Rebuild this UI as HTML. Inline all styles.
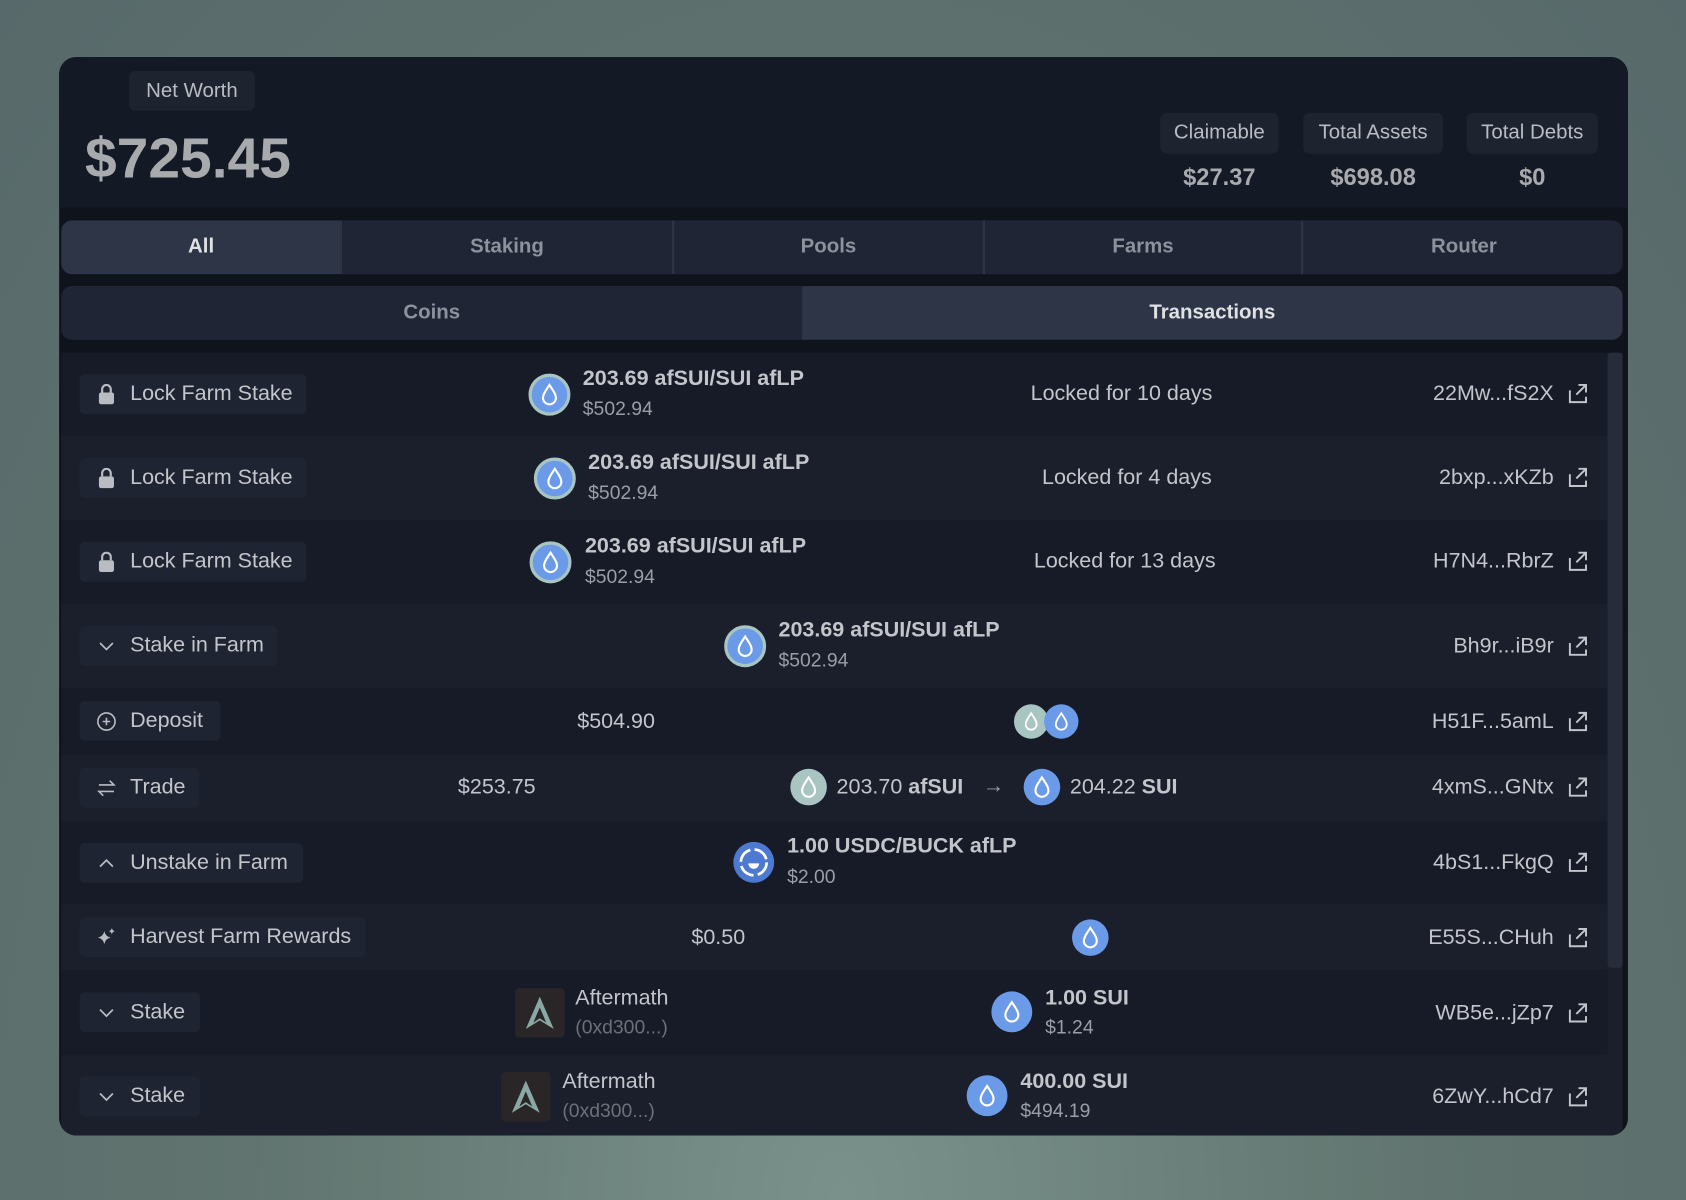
<!DOCTYPE html>
<html><head><meta charset="utf-8"><style>
html,body{margin:0;padding:0;width:1686px;height:1200px;overflow:hidden}
body{background:radial-gradient(ellipse at 50% 100%,#7a918b 0%,#61746f 50%,#57696a 100%);font-family:"Liberation Sans",sans-serif}
#w{position:absolute;left:0;top:0;width:1568px;height:1116px;transform:scale(1.07526);transform-origin:0 0}
.a{position:absolute}
.card{left:55px;top:53px;width:1459px;height:1003px;background:#0f141c;border-radius:16px;overflow:hidden}
.pill{position:absolute;background:#1e2330;border-radius:6px;color:#b9bcc2;font-size:19px;display:flex;align-items:center;justify-content:center}
.tab{position:absolute;top:0;height:50px;display:flex;align-items:center;justify-content:center;color:#8d929c;font-weight:bold;font-size:19px;background:#1f2535}
.badge{position:absolute;left:19px;height:37px;background:#1f2432;border-radius:5px;color:#c3c5ca;font-size:20px;display:flex;align-items:center;padding-left:47px;box-sizing:border-box}
.badge svg{position:absolute;left:15px;top:9px}
.t{position:absolute;color:#c3c5ca;font-size:20px;white-space:nowrap}
.b{font-weight:bold}
.g{color:#9a9ea6;font-size:18px}
.coin{position:absolute;border-radius:50%;background:#6b9be8;border:2px solid #a9c5c2;box-sizing:border-box}
</style></head><body><div id="w">
<div class="a card">
 <div class="a" style="left:0;top:0;width:1459px;height:140px;background:#131925"></div>
 <div class="pill" style="left:65px;top:13px;width:117px;height:37px">Net Worth</div>
 <div class="a" style="left:24px;top:64px;font-size:53px;font-weight:bold;color:#a9aaad">$725.45</div>
 <div class="pill" style="left:1024px;top:52px;width:110px;height:38px">Claimable</div>
 <div class="pill" style="left:1157px;top:52px;width:130px;height:38px">Total Assets</div>
 <div class="pill" style="left:1309px;top:52px;width:122px;height:38px">Total Debts</div>
 <div class="a b" style="left:1024px;width:110px;text-align:center;top:99px;font-size:22px;color:#a9aaad">$27.37</div>
 <div class="a b" style="left:1157px;width:130px;text-align:center;top:99px;font-size:22px;color:#a9aaad">$698.08</div>
 <div class="a b" style="left:1309px;width:122px;text-align:center;top:99px;font-size:22px;color:#a9aaad">$0</div>

 <div class="a" style="left:2px;top:152px;width:1452px;height:50px;border-radius:10px;overflow:hidden;background:#1f2535">
  <div class="tab" style="left:0;width:260px;background:#2e3547;color:#e0e1e4">All</div>
  <div class="tab" style="left:260px;width:307px;border-left:1px solid #2e3546">Staking</div>
  <div class="tab" style="left:568px;width:287px;border-left:2px solid #2e3546">Pools</div>
  <div class="tab" style="left:857px;width:294px;border-left:2px solid #2e3546">Farms</div>
  <div class="tab" style="left:1153px;width:299px;border-left:2px solid #2e3546">Router</div>
 </div>
 <div class="a" style="left:2px;top:213px;width:1452px;height:50px;border-radius:10px;overflow:hidden;background:#1f2535">
  <div class="tab" style="left:0;width:689px">Coins</div>
  <div class="tab" style="left:689px;width:763px;background:#2e3547;color:#e0e1e4">Transactions</div>
 </div>

 <div class="a" style="left:2px;top:275px;width:1438px;height:728px;background:#161b27">
 <div class="a" style="left:0;top:77px;width:1438px;height:79px;background:#1a1f2b"></div>
 <div class="a" style="left:0;top:234px;width:1438px;height:78px;background:#1a1f2b"></div>
 <div class="a" style="left:0;top:374px;width:1438px;height:62px;background:#1a1f2b"></div>
 <div class="a" style="left:0;top:513px;width:1438px;height:61px;background:#1a1f2b"></div>
 <div class="a" style="left:0;top:653px;width:1438px;height:75px;background:#1a1f2b"></div>
 </div>
 <div class="a" style="left:1440px;top:275px;width:14px;height:728px;background:#1a1f2b"></div>
 <div class="a" style="left:1440px;top:275px;width:14px;height:572px;background:#262c3a;border-radius:3px"></div>
</div>

<svg width="0" height="0" style="position:absolute"><defs>
<g id="drop"><path d="M0,-9 C4,-3 6,0 6,3 A6,6 0 0 1 -6,3 C-6,0 -4,-3 0,-9Z" fill="none" stroke="#fff" stroke-width="2"/></g>
<g id="ext"><path d="M-7,-3 V8 H8 V3 M1,-8 H8 V-1 M8,-8 L-1,1" fill="none" stroke="#c3c5ca" stroke-width="1.8"/></g>
<g id="lock"><rect x="-7" y="-2" width="14" height="11" rx="2" fill="#b9bcc2"/><path d="M-4,-2 V-5 A4,4 0 0 1 4,-5 V-2" fill="none" stroke="#b9bcc2" stroke-width="2"/></g>
</defs></svg>

<!-- row 1 -->
<div class="badge a" style="left:74px;top:348px;width:211px">Lock Farm Stake<svg width="20" height="20" viewBox="-10 -10 20 20"><use href="#lock"/></svg></div>
<svg class="a" style="left:491px;top:347px" width="40" height="40" viewBox="-20 -20 40 40"><circle r="18" fill="#6b9be8" stroke="#a9c5c2" stroke-width="3"/><use href="#drop"/></svg>
<div class="t b" style="left:542px;top:341px">203.69 afSUI/SUI afLP</div><div class="t g" style="left:542px;top:370px">$502.94</div>
<div class="t" style="left:943px;width:200px;text-align:center;top:355px">Locked for 10 days</div>
<div class="t" style="right:123px;top:355px">22Mw...fS2X</div>
<svg class="a" style="left:1457px;top:356px" width="20" height="20" viewBox="-10 -10 20 20"><use href="#ext"/></svg>
<!-- row 2 -->
<div class="badge a" style="left:74px;top:426px;width:211px">Lock Farm Stake<svg width="20" height="20" viewBox="-10 -10 20 20"><use href="#lock"/></svg></div>
<svg class="a" style="left:496px;top:425px" width="40" height="40" viewBox="-20 -20 40 40"><circle r="18" fill="#6b9be8" stroke="#a9c5c2" stroke-width="3"/><use href="#drop"/></svg>
<div class="t b" style="left:547px;top:419px">203.69 afSUI/SUI afLP</div><div class="t g" style="left:547px;top:448px">$502.94</div>
<div class="t" style="left:948px;width:200px;text-align:center;top:433px">Locked for 4 days</div>
<div class="t" style="right:123px;top:433px">2bxp...xKZb</div>
<svg class="a" style="left:1457px;top:434px" width="20" height="20" viewBox="-10 -10 20 20"><use href="#ext"/></svg>
<!-- row 3 -->
<div class="badge a" style="left:74px;top:504px;width:211px">Lock Farm Stake<svg width="20" height="20" viewBox="-10 -10 20 20"><use href="#lock"/></svg></div>
<svg class="a" style="left:492px;top:503px" width="40" height="40" viewBox="-20 -20 40 40"><circle r="18" fill="#6b9be8" stroke="#a9c5c2" stroke-width="3"/><use href="#drop"/></svg>
<div class="t b" style="left:544px;top:497px">203.69 afSUI/SUI afLP</div><div class="t g" style="left:544px;top:526px">$502.94</div>
<div class="t" style="left:946px;width:200px;text-align:center;top:511px">Locked for 13 days</div>
<div class="t" style="right:123px;top:511px">H7N4...RbrZ</div>
<svg class="a" style="left:1457px;top:512px" width="20" height="20" viewBox="-10 -10 20 20"><use href="#ext"/></svg>
<!-- row 4 -->
<div class="badge a" style="left:74px;top:582px;width:184px">Stake in Farm<svg width="20" height="20" viewBox="-10 -10 20 20"><path d="M-6,-3 L0,3 L6,-3" fill="none" stroke="#b9bcc2" stroke-width="1.6"/></svg></div>
<svg class="a" style="left:673px;top:581px" width="40" height="40" viewBox="-20 -20 40 40"><circle r="18" fill="#6b9be8" stroke="#a9c5c2" stroke-width="3"/><use href="#drop"/></svg>
<div class="t b" style="left:724px;top:575px">203.69 afSUI/SUI afLP</div><div class="t g" style="left:724px;top:604px">$502.94</div>
<div class="t" style="right:123px;top:590px">Bh9r...iB9r</div>
<svg class="a" style="left:1457px;top:591px" width="20" height="20" viewBox="-10 -10 20 20"><use href="#ext"/></svg>
<!-- row 5 -->
<div class="badge a" style="left:74px;top:652px;width:131px">Deposit<svg width="20" height="20" viewBox="-10 -10 20 20"><circle r="8" fill="none" stroke="#b9bcc2" stroke-width="1.5"/><path d="M-3.5,0 H3.5 M0,-3.5 V3.5" stroke="#b9bcc2" stroke-width="1.5"/></svg></div>
<div class="t" style="left:513px;width:120px;text-align:center;top:660px">$504.90</div>
<svg class="a" style="left:941px;top:653px" width="66" height="36" viewBox="0 0 66 36"><circle cx="18" cy="18" r="16" fill="#a9c5c2"/><g transform="translate(18,18) scale(.85)"><use href="#drop"/></g><circle cx="46" cy="18" r="16" fill="#6b9be8"/><g transform="translate(46,18) scale(.85)"><use href="#drop"/></g></svg>
<div class="t" style="right:123px;top:660px">H51F...5amL</div>
<svg class="a" style="left:1457px;top:661px" width="20" height="20" viewBox="-10 -10 20 20"><use href="#ext"/></svg>
<!-- row 6 -->
<div class="badge a" style="left:74px;top:714px;width:111px">Trade<svg width="20" height="20" viewBox="-10 -10 20 20"><path d="M-7,-3 H7 L3,-7 M7,3 H-7 L-3,7" fill="none" stroke="#b9bcc2" stroke-width="1.5"/></svg></div>
<div class="t" style="left:402px;width:120px;text-align:center;top:721px">$253.75</div>
<svg class="a" style="left:734px;top:714px" width="36" height="36" viewBox="-18 -18 36 36"><circle r="17" fill="#a9c5c2"/><use href="#drop"/></svg>
<div class="t" style="left:778px;top:721px">203.70 <span class="b">afSUI</span></div>
<div class="t" style="left:914px;top:720px;color:#9a9ea6">→</div>
<svg class="a" style="left:951px;top:714px" width="36" height="36" viewBox="-18 -18 36 36"><circle r="17" fill="#6b9be8"/><use href="#drop"/></svg>
<div class="t" style="left:995px;top:721px">204.22 <span class="b">SUI</span></div>
<div class="t" style="right:123px;top:721px">4xmS...GNtx</div>
<svg class="a" style="left:1457px;top:722px" width="20" height="20" viewBox="-10 -10 20 20"><use href="#ext"/></svg>
<!-- row 7 -->
<div class="badge a" style="left:74px;top:784px;width:208px">Unstake in Farm<svg width="20" height="20" viewBox="-10 -10 20 20"><path d="M-6,3 L0,-3 L6,3" fill="none" stroke="#b9bcc2" stroke-width="1.6"/></svg></div>
<svg class="a" style="left:681px;top:782px" width="40" height="40" viewBox="-20 -20 40 40"><circle r="19" fill="#4d79d0"/><circle r="12" fill="none" stroke="#fff" stroke-width="2.5" stroke-dasharray="15 4"/><path d="M-5,1 A5,5 0 0 0 5,1Z" fill="#fff"/></svg>
<div class="t b" style="left:732px;top:776px">1.00 USDC/BUCK afLP</div><div class="t g" style="left:732px;top:805px">$2.00</div>
<div class="t" style="right:123px;top:791px">4bS1...FkgQ</div>
<svg class="a" style="left:1457px;top:792px" width="20" height="20" viewBox="-10 -10 20 20"><use href="#ext"/></svg>
<!-- row 8 -->
<div class="badge a" style="left:74px;top:853px;width:266px">Harvest Farm Rewards<svg width="20" height="20" viewBox="-10 -10 20 20"><path d="M-2,-6 Q-1,-1 4,0 Q-1,1 -2,6 Q-3,1 -8,0 Q-3,-1 -2,-6Z M5,-9 Q5.5,-6.5 8,-6 Q5.5,-5.5 5,-3 Q4.5,-5.5 2,-6 Q4.5,-6.5 5,-9Z" fill="#b9bcc2"/></svg></div>
<div class="t" style="left:608px;width:120px;text-align:center;top:861px">$0.50</div>
<svg class="a" style="left:996px;top:854px" width="36" height="36" viewBox="-18 -18 36 36"><circle r="17" fill="#6b9be8"/><use href="#drop"/></svg>
<div class="t" style="right:123px;top:861px">E55S...CHuh</div>
<svg class="a" style="left:1457px;top:862px" width="20" height="20" viewBox="-10 -10 20 20"><use href="#ext"/></svg>
<!-- row 9 -->
<div class="badge a" style="left:74px;top:923px;width:112px">Stake<svg width="20" height="20" viewBox="-10 -10 20 20"><path d="M-6,-3 L0,3 L6,-3" fill="none" stroke="#b9bcc2" stroke-width="1.6"/></svg></div>
<svg class="a" style="left:479px;top:919px" width="46" height="46" viewBox="0 0 46 46"><rect width="46" height="46" rx="4" fill="#2a2628"/><path d="M23,8 L36,38 L23,30 L10,38Z" fill="#8aa9a6"/><path d="M23,18 L29,32 L23,28 L17,32Z" fill="#2a2628"/></svg>
<div class="t" style="left:535px;top:917px">Aftermath</div><div class="t g" style="left:535px;top:945px;color:#6b7079">(0xd300...)</div>
<svg class="a" style="left:921px;top:921px" width="40" height="40" viewBox="-20 -20 40 40"><circle r="19" fill="#6b9be8"/><use href="#drop"/></svg>
<div class="t b" style="left:972px;top:917px">1.00 SUI</div><div class="t g" style="left:972px;top:945px">$1.24</div>
<div class="t" style="right:123px;top:931px">WB5e...jZp7</div>
<svg class="a" style="left:1457px;top:932px" width="20" height="20" viewBox="-10 -10 20 20"><use href="#ext"/></svg>
<!-- row 10 -->
<div class="badge a" style="left:74px;top:1001px;width:112px">Stake<svg width="20" height="20" viewBox="-10 -10 20 20"><path d="M-6,-3 L0,3 L6,-3" fill="none" stroke="#b9bcc2" stroke-width="1.6"/></svg></div>
<svg class="a" style="left:466px;top:997px" width="46" height="46" viewBox="0 0 46 46"><rect width="46" height="46" rx="4" fill="#2a2628"/><path d="M23,8 L36,38 L23,30 L10,38Z" fill="#8aa9a6"/><path d="M23,18 L29,32 L23,28 L17,32Z" fill="#2a2628"/></svg>
<div class="t" style="left:523px;top:995px">Aftermath</div><div class="t g" style="left:523px;top:1023px;color:#6b7079">(0xd300...)</div>
<svg class="a" style="left:898px;top:999px" width="40" height="40" viewBox="-20 -20 40 40"><circle r="19" fill="#6b9be8"/><use href="#drop"/></svg>
<div class="t b" style="left:949px;top:995px">400.00 SUI</div><div class="t g" style="left:949px;top:1023px">$494.19</div>
<div class="t" style="right:123px;top:1009px">6ZwY...hCd7</div>
<svg class="a" style="left:1457px;top:1010px" width="20" height="20" viewBox="-10 -10 20 20"><use href="#ext"/></svg>
</div></body></html>
